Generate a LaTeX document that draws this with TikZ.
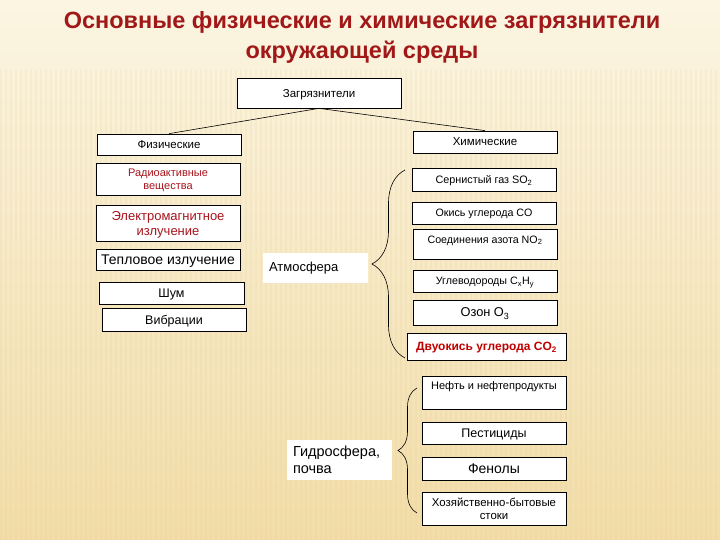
\documentclass[tikz,border=0pt]{standalone}
\usepackage{fontspec}
\setmainfont{Liberation Sans}
\usetikzlibrary{decorations.pathreplacing}
\definecolor{titlered}{HTML}{A01818}
\definecolor{boxred}{HTML}{A8141C}
\definecolor{brightred}{HTML}{C00000}
\definecolor{bgtop}{HTML}{FBF5E2}
\definecolor{bgbot}{HTML}{F2DDA8}
\begin{document}
\begin{tikzpicture}[x=1pt,y=-1pt,
  box/.style={draw=black, line width=0.7pt, fill=white, inner sep=0pt, text depth=0pt, align=center, font=\fontsize{11}{12}\selectfont},
  redtxt/.style={text=boxred},
  plain/.style={fill=white, inner xsep=6pt, inner ysep=0pt, text width=93pt, align=left},
  lbl/.style={inner sep=0pt, align=center},
  conn/.style={draw=black, line width=0.6pt},
  brc/.style={draw=black, line width=0.6pt, decorate},
  title/.style={text=titlered, align=center, font=\fontsize{23.5}{30}\selectfont\bfseries}
]
\useasboundingbox (0,0) rectangle (720,540);
\fill[top color=bgtop, bottom color=bgbot] (0,0) rectangle (720,540);
\foreach \i in {0,5,...,720} {
  \fill[bgbot!70!brown, opacity=0.12] (\i,70) rectangle ++(2,470);
}

\node[title] (title) at (362,37) {Основные физические и химические загрязнители\\окружающей среды};

\node[box, font=\fontsize{11.5}{13}\selectfont, minimum width=164pt, minimum height=30pt] (zag) at (319,93) {Загрязнители};
\node[box, font=\fontsize{11.5}{13}\selectfont, minimum width=144pt, minimum height=21pt] (fiz) at (169,144.5) {Физические};
\node[box, font=\fontsize{11.5}{13}\selectfont, minimum width=144pt, minimum height=22pt] (him) at (485,142) {Химические};

\draw[conn] (zag.south) -- (fiz.north);
\draw[conn] (zag.south) -- (him.north);

% physical
\node[box, redtxt, font=\fontsize{11}{12.5}\selectfont, minimum width=144pt, minimum height=32pt] (rad) at (168,179) {Радиоактивные\\вещества};
\node[box, redtxt, font=\fontsize{13}{15}\selectfont, minimum width=144pt, minimum height=36pt] (elm) at (168,223) {Электромагнитное\\излучение};
\node[box, font=\fontsize{14}{16}\selectfont, minimum width=144pt, minimum height=21pt] (tep) at (168,259.5) {Тепловое излучение};
\node[box, font=\fontsize{12.5}{14}\selectfont, minimum width=145pt, minimum height=22pt] (shum) at (171.5,293) {Шум};
\node[box, font=\fontsize{12.5}{14}\selectfont, minimum width=144pt, minimum height=23pt] (vib) at (174,319.5) {Вибрации};

% atmosphere
\node[plain, font=\fontsize{13}{15}\selectfont, minimum height=30pt] (atm) at (315.5,268) {Атмосфера};
\coordinate (ab1) at (405,358);
\coordinate (ab2) at (405,170);
\draw[brc, decoration={brace, amplitude=33pt}] (ab1) -- (ab2);

\node[box, font=\fontsize{10.8}{12}\selectfont, minimum width=144pt, minimum height=23pt] (ser) at (484,179.5) {Сернистый газ SO\textsubscript{2}};
\node[box, font=\fontsize{10.7}{12}\selectfont, minimum width=144pt, minimum height=22pt] (ok) at (484,213) {Окись углерода CO};
\node[box, minimum width=144pt, minimum height=30pt] (no2) at (485,244) {};
\node[lbl, font=\fontsize{10.7}{12}\selectfont] (no2t) at (485,240.5) {Соединения азота NO\textsubscript{2}};
\node[box, font=\fontsize{10.7}{12}\selectfont, minimum width=144pt, minimum height=22pt] (ugl) at (485,281) {Углеводороды C\textsubscript{x}H\textsubscript{y}};
\node[box, font=\fontsize{12.8}{14}\selectfont, minimum width=144pt, minimum height=25pt] (oz) at (485,312.5) {Озон O\textsubscript{3}};
\node[box, text=brightred, minimum width=159pt, minimum height=27pt, font=\fontsize{12}{13}\selectfont\bfseries] (dvu) at (486.5,346.5) {Двуокись углерода CO\textsubscript{2}};

% hydrosphere
\node[plain, font=\fontsize{14.5}{17}\selectfont, minimum height=40pt] (gid) at (339.5,460) {Гидросфера,\\почва};
\coordinate (hb1) at (417,513);
\coordinate (hb2) at (417,388);
\draw[brc, decoration={brace, amplitude=19pt}] (hb1) -- (hb2);

\node[box, minimum width=144pt, minimum height=33pt] (neft) at (494,392.5) {};
\node[lbl, font=\fontsize{11}{12}\selectfont] (neftt) at (494,387) {Нефть и нефтепродукты};
\node[box, font=\fontsize{12.5}{14}\selectfont, minimum width=144pt, minimum height=22pt] (pest) at (494,433) {Пестициды};
\node[box, font=\fontsize{14}{16}\selectfont, minimum width=144pt, minimum height=23pt] (fen) at (494,468.5) {Фенолы};
\node[box, font=\fontsize{11.4}{13}\selectfont, minimum width=144pt, minimum height=33pt] (hoz) at (494,508.5) {Хозяйственно-бытовые\\стоки};
\end{tikzpicture}
\end{document}
